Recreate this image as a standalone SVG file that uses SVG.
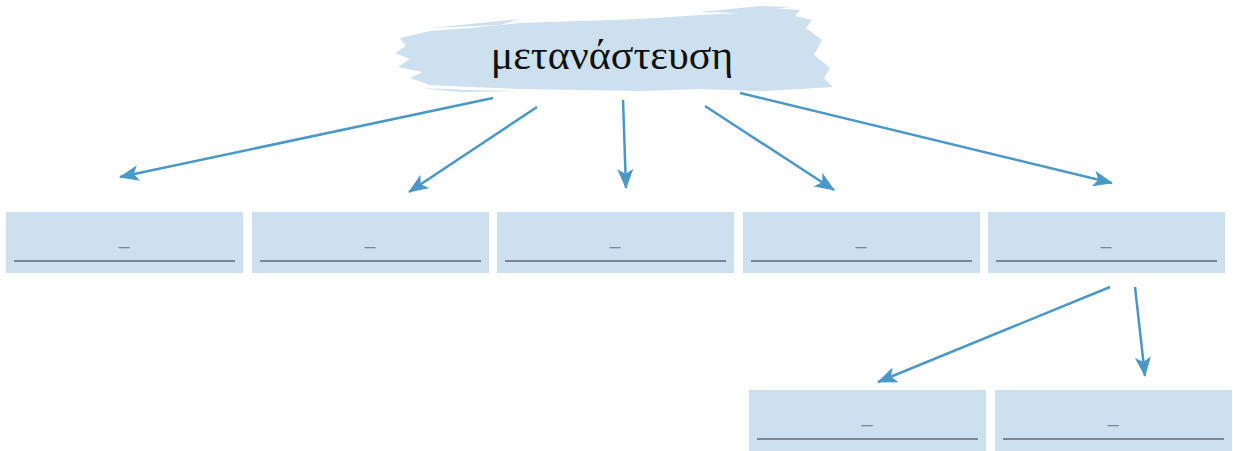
<svg xmlns="http://www.w3.org/2000/svg" width="1233" height="451" viewBox="0 0 1233 451">
<style>
.box{fill:#cce0ef}
.ul{stroke:#7a8794;stroke-width:2}
.dash{font-family:"Liberation Sans",Arial,sans-serif;font-size:20px;fill:#7a8794;text-anchor:middle}
.conn{stroke:#4a98c8;stroke-width:2.5;fill:none;marker-end:url(#ah)}
.title{font-family:"Liberation Serif","Times New Roman",serif;font-size:42px;fill:#111;text-anchor:middle}
</style>
<defs>
<marker id="ah" markerUnits="userSpaceOnUse" markerWidth="22" markerHeight="16" refX="19" refY="8" orient="auto">
<path d="M0,0 L20,8 L0,16 L5,8 Z" fill="#4a98c8"/>
</marker>
</defs>
<rect width="1233" height="451" fill="#ffffff"/>
<g id="root">
<path fill="#cce0ef" d="M400,38 L430,31 L470,28 L520,23 L580,21 L640,19 L700,15 L740,13 L770,8 L800,10 L795,16 L812,20 L806,28 L822,40 L814,55 L830,68 L824,78 L833,87 L800,89 L760,91 L700,89 L640,91 L580,90 L520,89 L470,87 L430,85 L410,78 L422,72 L398,67 L410,59 L395,53 L406,46 Z"/>
<path fill="#cce0ef" d="M430,28 L470,24 L520,19 L500,25 Z M700,12 L760,6 L790,7 L740,13 Z M420,88 L470,90 L520,91 L460,92 Z"/>
<text class="title" x="612" y="69">μετανάστευση</text>
</g>
<g id="n1"><rect class="box" x="6" y="212" width="237" height="61"/><text class="dash" x="124" y="253">–</text><line class="ul" x1="14" y1="261" x2="235" y2="261"/></g>
<g id="n2"><rect class="box" x="252" y="212" width="237" height="61"/><text class="dash" x="370" y="253">–</text><line class="ul" x1="260" y1="261" x2="481" y2="261"/></g>
<g id="n3"><rect class="box" x="497" y="212" width="237" height="61"/><text class="dash" x="615" y="253">–</text><line class="ul" x1="505" y1="261" x2="726" y2="261"/></g>
<g id="n4"><rect class="box" x="743" y="212" width="237" height="61"/><text class="dash" x="861" y="253">–</text><line class="ul" x1="751" y1="261" x2="972" y2="261"/></g>
<g id="n5"><rect class="box" x="988" y="212" width="237" height="61"/><text class="dash" x="1106" y="253">–</text><line class="ul" x1="996" y1="261" x2="1217" y2="261"/></g>
<g id="n6"><rect class="box" x="749" y="390" width="237" height="61"/><text class="dash" x="867" y="431">–</text><line class="ul" x1="757" y1="439" x2="978" y2="439"/></g>
<g id="n7"><rect class="box" x="995" y="390" width="237" height="61"/><text class="dash" x="1113" y="431">–</text><line class="ul" x1="1003" y1="439" x2="1224" y2="439"/></g>
<g id="connectors">
<line class="conn" x1="493" y1="98" x2="120" y2="177"/>
<line class="conn" x1="537" y1="107" x2="409" y2="192"/>
<line class="conn" x1="623" y1="100" x2="626" y2="188"/>
<line class="conn" x1="705" y1="106" x2="834" y2="190"/>
<line class="conn" x1="740" y1="93" x2="1112" y2="183"/>
<line class="conn" x1="1110" y1="287" x2="878" y2="382"/>
<line class="conn" x1="1135" y1="287" x2="1145" y2="376"/>
</g>
</svg>
